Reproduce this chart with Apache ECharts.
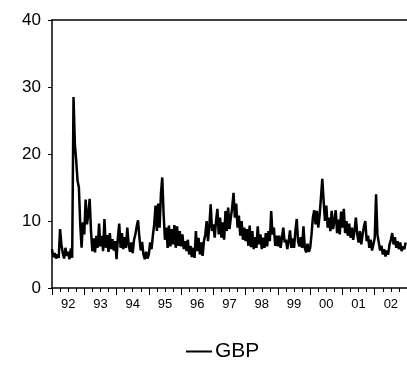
<!DOCTYPE html>
<html>
<head>
<meta charset="utf-8">
<script src="https://cdn.jsdelivr.net/npm/echarts@6/dist/echarts.min.js"></script>
<style>
    html, body { margin: 0; padding: 0; background: #fff; }
    #main { width: 407px; height: 367px; }
</style>
</head>
<body>
<div id="main"></div>
<script>
// series info
var seriesName = 'GBP';
var startYear = 1992;
var endYear = 2003;
var pointsPerYear = 24;   // two readings per month

// y axis ticks
var yMin = 0, yMax = 40, yStep = 10;

// values, one row per year
var gbpValues = [
    // 1992
    5.8, 4.6, 5.2, 4.4, 5.0, 4.5, 8.8, 6.5, 5.2, 4.4, 6.0, 4.8, 5.4, 4.3, 5.9, 4.5, 28.5, 21.5, 19.0, 16.0, 15.0, 9.5, 6.0, 9.8,
    // 1993
    8.0, 13.2, 9.5, 11.0, 13.3, 8.5, 5.5, 7.4, 5.3, 7.8, 6.0, 9.6, 6.2, 7.8, 5.5, 10.3, 6.0, 7.9, 5.4, 8.2, 5.8, 7.3, 5.6, 7.0,
    // 1994
    4.3, 7.5, 9.6, 6.0, 8.2, 5.8, 7.6, 6.0, 9.0, 6.5, 5.4, 6.8, 5.2, 7.2, 8.0, 9.2, 10.1, 7.5, 5.6, 6.9, 5.0, 4.3, 5.4, 4.4,
    // 1995
    5.0, 6.8, 5.8, 7.8, 9.5, 12.3, 8.5, 12.6, 9.0, 14.0, 16.5, 11.0, 7.2, 9.0, 6.0, 9.3, 6.2, 8.8, 6.5, 9.4, 6.0, 9.2, 6.3, 8.5,
    // 1996
    6.2, 8.0, 5.8, 7.0, 5.5, 7.2, 5.0, 6.3, 4.6, 6.0, 4.5, 8.5, 5.5, 7.5, 5.0, 6.8, 4.8, 7.0, 8.0, 10.0, 7.0, 9.2, 12.5, 8.5,
    // 1997
    9.5, 7.5, 10.0, 11.8, 8.0, 10.5, 7.5, 9.8, 7.2, 11.5, 8.5, 12.0, 8.8, 10.5, 12.0, 14.2, 10.5, 12.6, 9.0, 10.8, 7.8, 10.0, 7.2, 9.0,
    // 1998
    7.0, 8.8, 6.3, 9.3, 6.1, 8.5, 5.8, 7.6, 6.0, 9.2, 6.5, 8.0, 5.8, 7.5, 6.0, 8.2, 6.2, 8.5, 7.0, 11.5, 8.0, 9.0, 6.3, 7.8,
    // 1999
    6.2, 7.8, 6.0, 7.5, 9.0, 6.8, 7.2, 5.8, 7.0, 8.6, 6.0, 7.4, 6.0, 8.5, 10.3, 7.0, 6.2, 7.6, 6.0, 9.2, 6.0, 5.3, 6.6, 5.4,
    // 2000
    6.0, 8.0, 10.5, 11.6, 9.5, 11.5, 9.0, 10.8, 13.5, 16.3, 13.0, 10.0, 12.3, 9.0, 10.5, 8.5, 11.5, 8.8, 10.0, 11.6, 8.2, 10.2, 8.0, 11.4,
    // 2001
    9.0, 11.8, 8.2, 10.0, 7.8, 9.6, 7.5, 9.0, 7.2, 8.6, 10.5, 8.0, 6.8, 8.5, 6.5, 8.0, 9.2, 10.0, 7.0, 7.8, 6.0, 7.2, 5.6, 6.5,
    // 2002
    7.5, 14.0, 8.0, 6.8, 5.6, 6.3, 5.0, 5.8, 4.7, 5.6, 5.0, 6.5, 7.2, 8.2, 6.5, 7.6, 6.0, 7.0, 5.8, 6.8, 5.5, 6.2, 5.8, 6.8
];

var gbpData = [];
for (var i = 0; i < gbpValues.length; i++) {
    gbpData.push([startYear + i / pointsPerYear, gbpValues[i]]);
}

var myChart = echarts.init(document.getElementById('main'));

var option = {
    animation: false,
    backgroundColor: '#fff',
    textStyle: {
        fontFamily: 'Liberation Sans, Arial, sans-serif',
        color: '#000'
    },
    grid: {
        left: 52,
        right: 0,
        top: 20,
        bottom: 79
    },
    legend: {
        left: 181,
        top: 336,
        itemWidth: 26,
        itemHeight: 2,
        itemGap: 5,
        icon: 'rect',
        textStyle: {
            fontSize: 21,
            color: '#000',
            padding: [0, 0, 0, -2]
        },
        data: [seriesName]
    },
    xAxis: [
        {
            // ticks: long at each year, short at each quarter
            type: 'value',
            min: startYear,
            max: endYear,
            interval: 1,
            position: 'bottom',
            axisLine: {lineStyle: {color: '#000', width: 1.5}},
            axisTick: {show: true, inside: false, length: 7, lineStyle: {color: '#000', width: 1}},
            minorTick: {show: true, splitNumber: 4, length: 4, lineStyle: {color: '#000', width: 1}},
            axisLabel: {show: false},
            splitLine: {show: false}
        },
        {
            // year labels sit in the middle of each year
            type: 'value',
            min: startYear,
            max: endYear,
            interval: 0.5,
            position: 'bottom',
            axisLine: {show: false},
            axisTick: {show: false},
            splitLine: {show: false},
            axisLabel: {
                fontSize: 13,
                color: '#000',
                margin: 10,
                showMinLabel: false,
                showMaxLabel: false,
                formatter: function (v) {
                    if (Math.abs(v % 1 - 0.5) > 0.01) return '';
                    var y = Math.floor(v) % 100;
                    return (y < 10 ? '0' : '') + y;
                }
            }
        },
        {
            // top frame line
            type: 'value',
            min: startYear,
            max: endYear,
            position: 'top',
            axisLine: {show: true, lineStyle: {color: '#000', width: 1.5}},
            axisTick: {show: false},
            axisLabel: {show: false},
            splitLine: {show: false}
        }
    ],
    yAxis: [
        {
            type: 'value',
            min: yMin,
            max: yMax,
            interval: yStep,
            axisLine: {show: true, lineStyle: {color: '#000', width: 1.5}},
            axisTick: {show: true, inside: false, length: 4, lineStyle: {color: '#000'}},
            axisLabel: {fontSize: 17, color: '#000', margin: 11},
            splitLine: {show: false}
        }
    ],
    series: [
        {
            name: seriesName,
            type: 'line',
            xAxisIndex: 0,
            data: gbpData,
            showSymbol: false,
            symbol: 'none',
            itemStyle: {color: '#000'},
            lineStyle: {color: '#000', width: 2.5}
        }
    ]
};

myChart.setOption(option);
</script>
</body>
</html>
